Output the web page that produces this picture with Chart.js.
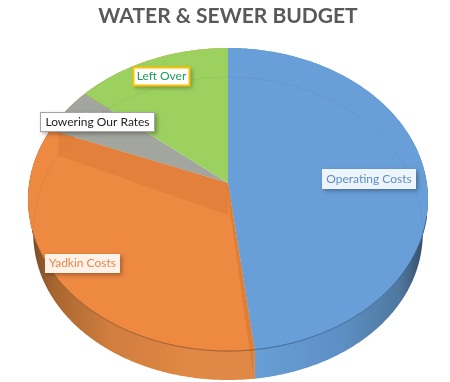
<!DOCTYPE html>
<html>
<head>
<meta charset="utf-8">
<style>
  html, body { margin: 0; padding: 0; background: #fff; }
  canvas { display: block; }
</style>
<script src="https://cdn.jsdelivr.net/npm/chart.js@4"></script>
</head>
<body>
<canvas id="budgetChart" width="450" height="382"></canvas>
<script>
const categories = ['Operating Costs', 'Yadkin Costs', 'Lowering Our Rates', 'Left Over'];
const budgetShare = [48.1, 32.9, 5, 14];

const sliceColors = ['#689fd8', '#ed8941', '#a3a69f', '#9cd160'];
const labelTextColors = ['#5b8fc7', '#e58a4f', '#222222', '#1f9e5a'];
const labelFills = ['#eef4fb', '#fdf1e8', '#ffffff', '#ffffff'];
const labelBorders = [null, null, '#a5a5a5', '#ffc000'];
// left, top, right, bottom of each label box
const labelBoxes = [[322, 169, 416, 189], [45, 254, 120, 273], [40, 112, 155, 132], [133, 67, 190, 86]];

// the disc seen in perspective: the slices meet above the middle of the ellipse
// the lower disc is further away, so it comes out a little narrower
const PIE = { cx: 228, apexY: 183, a: 149.7, b: 198.8, tilt: 0.109, depth: 29, baseScale: 0.97 };

const project = (angle, shift = 0) => {
    const u = Math.cos(angle), v = Math.sin(angle);
    const w = 1 - PIE.tilt * v;
    const squeeze = shift ? PIE.baseScale + (1 - PIE.baseScale) * Math.max(0, v) : 1;
    return [PIE.cx + PIE.b * squeeze * u / w, PIE.apexY + shift + PIE.a * v / w];
};

const traceRim = (ctx, from, to, shift = 0) => {
    const steps = Math.max(2, Math.ceil(Math.abs(to - from) / 0.01));
    for (let i = 0; i <= steps; i++) {
        const p = project(from + (to - from) * i / steps, shift);
        ctx.lineTo(p[0], p[1]);
    }
};

// each slice is still drawn by the library, only its outline goes through the perspective
Chart.ArcElement.prototype.draw = function (ctx) {
    ctx.save();
    ctx.beginPath();
    ctx.moveTo(PIE.cx, PIE.apexY);
    traceRim(ctx, this.startAngle, this.endAngle);
    ctx.closePath();
    ctx.fillStyle = this.options.backgroundColor;
    ctx.fill();
    ctx.restore();
};

const wallGradient = (ctx, index) => {
    const g = ctx.createLinearGradient(28, 0, 428, 0);
    if (index === 0) {
        g.addColorStop(0.57, '#689ed6');
        g.addColorStop(0.78, '#5d90c4');
        g.addColorStop(0.93, '#4f779f');
        g.addColorStop(1, '#2f465c');
    } else {
        g.addColorStop(0, '#6e4526');
        g.addColorStop(0.06, '#a5652f');
        g.addColorStop(0.2, '#d07d3e');
        g.addColorStop(0.4, '#e08845');
        g.addColorStop(0.6, '#e08845');
    }
    return g;
};

const pieWalls = {
    id: 'pieWalls',
    beforeDatasetsDraw(chart) {
        const ctx = chart.ctx;
        chart.getDatasetMeta(0).data.forEach((arc, i) => {
            ctx.beginPath();
            const first = project(arc.startAngle);
            ctx.moveTo(first[0], first[1]);
            traceRim(ctx, arc.startAngle, arc.endAngle);
            traceRim(ctx, arc.endAngle, arc.startAngle, PIE.depth);
            ctx.closePath();
            ctx.fillStyle = wallGradient(ctx, i);
            ctx.fill();
        });
    }
};

const lerp = (a, b, t) => [a[0] + (b[0] - a[0]) * t, a[1] + (b[1] - a[1]) * t];

const pieDetails = {
    id: 'pieDetails',
    afterDatasetsDraw(chart) {
        const ctx = chart.ctx;
        const arcs = chart.getDatasetMeta(0).data;
        const apex = [PIE.cx, PIE.apexY];
        const yadkin = arcs[1];
        ctx.save();

        // cut faces of the orange slice showing through the top
        const backRim = project(yadkin.endAngle);
        const backEnd = lerp(apex, backRim, 0.955);
        ctx.beginPath();
        ctx.moveTo(apex[0], apex[1]);
        ctx.lineTo(backEnd[0], backEnd[1]);
        ctx.lineTo(backEnd[0], backEnd[1] + 23);
        ctx.lineTo(apex[0], apex[1] + 32);
        ctx.closePath();
        ctx.fillStyle = '#e2803c';
        ctx.fill();

        const frontRim = project(yadkin.startAngle);
        ctx.beginPath();
        ctx.moveTo(apex[0], apex[1]);
        ctx.lineTo(frontRim[0], frontRim[1]);
        ctx.lineTo(frontRim[0], frontRim[1] + PIE.depth);
        ctx.lineTo(frontRim[0] - 1, frontRim[1] + PIE.depth);
        ctx.lineTo(frontRim[0] - 5, frontRim[1]);
        ctx.lineTo(apex[0] - 2, apex[1]);
        ctx.closePath();
        ctx.fillStyle = '#dd7e39';
        ctx.fill();

        // far edge of the lower disc, faint through the top
        ctx.beginPath();
        traceRim(ctx, Math.PI * 0.93, Math.PI * 2.07, PIE.depth);
        ctx.strokeStyle = 'rgba(60,60,60,0.07)';
        ctx.lineWidth = 1;
        ctx.stroke();

        // dark line along the front of the top face
        ctx.beginPath();
        traceRim(ctx, yadkin.startAngle, Math.PI * 0.9);
        ctx.strokeStyle = 'rgba(130,70,25,0.75)';
        ctx.stroke();
        ctx.beginPath();
        traceRim(ctx, Math.PI * 0.07, arcs[0].endAngle);
        ctx.strokeStyle = 'rgba(40,80,125,0.75)';
        ctx.stroke();
        ctx.restore();
    }
};

const sliceLabels = {
    id: 'sliceLabels',
    afterDraw(chart) {
        const ctx = chart.ctx;
        categories.forEach((name, i) => {
            const [l, t, r, b] = labelBoxes[i];
            ctx.save();
            ctx.shadowColor = 'rgba(0,0,0,0.3)';
            ctx.shadowBlur = 4;
            ctx.shadowOffsetX = 2;
            ctx.shadowOffsetY = 2;
            ctx.fillStyle = labelFills[i];
            ctx.fillRect(l, t, r - l, b - t);
            ctx.restore();
            if (labelBorders[i]) {
                ctx.strokeStyle = labelBorders[i];
                ctx.lineWidth = i === 3 ? 2 : 1;
                ctx.strokeRect(l + 0.5, t + 0.5, r - l - 1, b - t - 1);
            }
            ctx.fillStyle = labelTextColors[i];
            ctx.font = '12px Lato';
            ctx.textAlign = 'center';
            ctx.textBaseline = 'middle';
            ctx.fillText(name, (l + r) / 2, (t + b) / 2);
        });
    }
};

new Chart(document.getElementById('budgetChart'), {
    type: 'pie',
    data: {
        labels: categories,
        datasets: [{
            data: budgetShare,
            backgroundColor: sliceColors,
            borderWidth: 0
        }]
    },
    options: {
        responsive: false,
        animation: false,
        layout: { padding: { left: 28, right: 22 } },
        plugins: {
            legend: { display: false },
            tooltip: { enabled: false },
            title: {
                display: true,
                text: 'WATER & SEWER BUDGET',
                color: '#595959',
                fullSize: false,
                font: { family: 'Lato', size: 21, weight: 'bold' },
                padding: { top: 4, bottom: 8 }
            }
        }
    },
    plugins: [pieWalls, pieDetails, sliceLabels]
});
</script>
</body>
</html>
